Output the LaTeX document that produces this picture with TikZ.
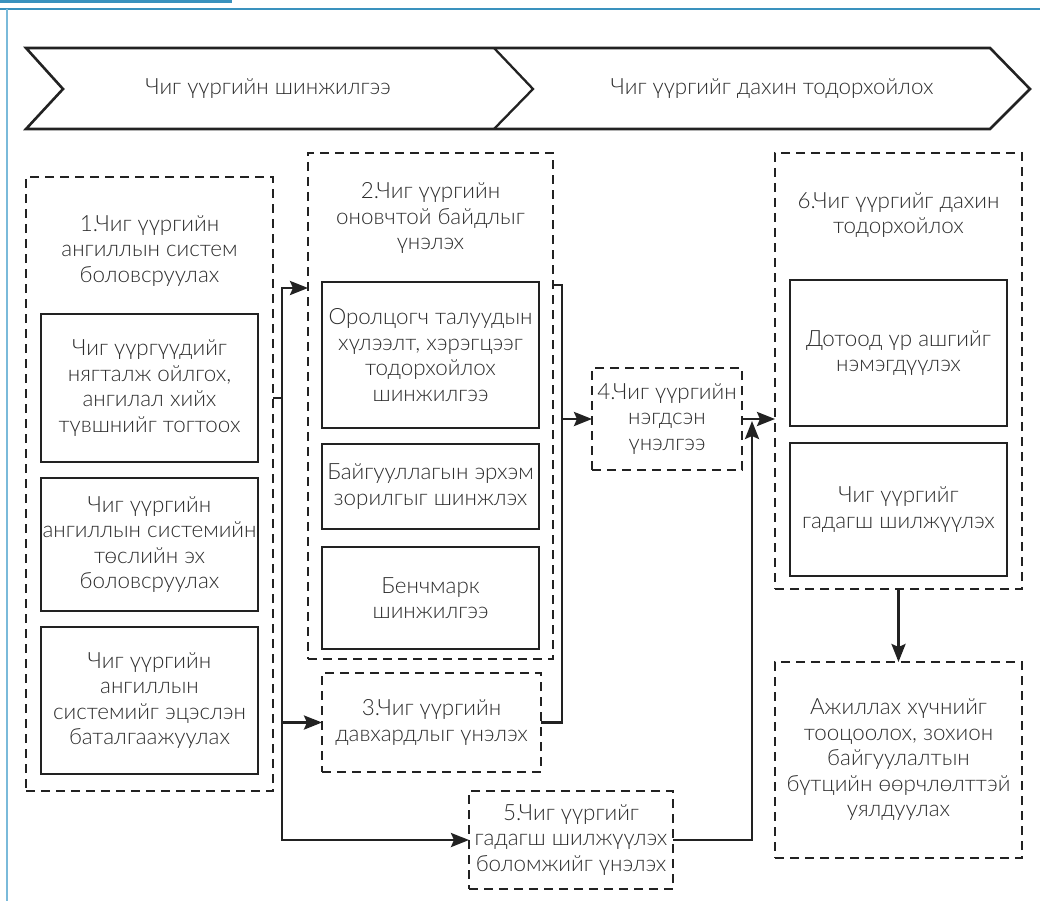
\documentclass[tikz,border=0pt]{standalone}
\usepackage{fontspec}
\IfFontExistsTF{Lato Light}{\setmainfont{Lato Light}}{\setmainfont{Lato}}
\usetikzlibrary{arrows.meta,calc}

\definecolor{tabblue}{RGB}{58,146,190}
\definecolor{edgeblue}{RGB}{122,186,218}
\definecolor{ink}{RGB}{34,34,34}
\definecolor{txtgray}{RGB}{45,45,45}

\tikzset{
  txt/.style={text=txtgray, font=\fontsize{22.4}{25.5}\selectfont, align=center, inner sep=0pt},
  groupbox/.style={draw=ink, line width=2.4pt, dash pattern=on 9pt off 6pt,
                   inner sep=0pt, outer sep=0pt, rectangle},
  stepbox/.style={draw=ink, line width=2.8pt, inner sep=0pt, outer sep=0pt,
                  rectangle, txt},
  conn/.style={draw=ink, line width=2.8pt},
  arrow/.style={conn, -{Stealth[length=18pt,width=14pt,inset=3pt]}},
}

\begin{document}
\begin{tikzpicture}[x=1pt,y=-1pt]
\useasboundingbox (0,0) rectangle (1040,901);

% page frame accents
\fill[tabblue] (0,0) rectangle (232,2.6);
\draw[tabblue, line width=1.8pt] (0,9) -- (1040,9);
\draw[edgeblue, line width=2pt] (7,9) -- (7,901);

% phase banner
\draw[ink, line width=2.6pt, line join=miter]
  (26,48) -- (990,48) -- (1030,89) -- (990,129) -- (26,129) -- (63,89) -- cycle;
\draw[ink, line width=2.3pt] (494,48) -- (533,89) -- (494,129);
\node[txt] (ph1) at (268,89) {Чиг үүргийн шинжилгээ};
\node[txt] (ph2) at (772,89) {Чиг үүргийг дахин тодорхойлох};

% group 1
\node[groupbox, minimum width=247pt, minimum height=614pt] (b1) at (149.5,484) {};
\node[txt] (t1) at (149.5,251) {1.Чиг үүргийн\\ангиллын систем\\боловсруулах};
\node[stepbox, minimum width=217pt, minimum height=148pt] (b1a) at (149.5,388)
  {Чиг үүргүүдийг\\нягталж ойлгох,\\ангилал хийх\\түвшнийг тогтоох};
\node[stepbox, minimum width=217pt, minimum height=133pt] (b1b) at (149.5,544.5)
  {Чиг үүргийн\\ангиллын системийн\\төслийн эх\\боловсруулах};
\node[stepbox, minimum width=217pt, minimum height=147pt] (b1c) at (149.5,700.5)
  {Чиг үүргийн\\ангиллын\\системийг эцэслэн\\баталгаажуулах};

% group 2
\node[groupbox, minimum width=245pt, minimum height=506pt] (b2) at (430.5,406) {};
\node[txt] (t2) at (430.5,218) {2.Чиг үүргийн\\оновчтой байдлыг\\үнэлэх};
\node[stepbox, minimum width=217pt, minimum height=146pt] (b2a) at (430.5,355)
  {Оролцогч талуудын\\хүлээлт, хэрэгцээг\\тодорхойлох\\шинжилгээ};
\node[stepbox, minimum width=217pt, minimum height=85pt] (b2b) at (430.5,486.5)
  {Байгууллагын эрхэм\\зорилгыг шинжлэх};
\node[stepbox, minimum width=217pt, minimum height=102pt] (b2c) at (430.5,598)
  {Бенчмарк\\шинжилгээ};

% groups 3, 4, 5
\node[groupbox, txt, minimum width=219pt, minimum height=99pt] (b3) at (431.5,722.5)
  {3.Чиг үүргийн\\давхардлыг үнэлэх};
\node[groupbox, txt, minimum width=150pt, minimum height=102pt] (b4) at (667,419)
  {4.Чиг үүргийн\\нэгдсэн\\үнэлгээ};
\node[groupbox, txt, minimum width=204pt, minimum height=98pt] (b5) at (571,840)
  {5.Чиг үүргийг\\гадагш шилжүүлэх\\боломжийг үнэлэх};

% group 6
\node[groupbox, minimum width=247pt, minimum height=436pt] (b6) at (898.5,371) {};
\node[txt] (t6) at (898.5,215) {6.Чиг үүргийг дахин\\тодорхойлох};
\node[stepbox, minimum width=217pt, minimum height=146pt] (b6a) at (898.5,353)
  {Дотоод үр ашгийг\\нэмэгдүүлэх};
\node[stepbox, minimum width=217pt, minimum height=133pt] (b6b) at (898.5,509.5)
  {Чиг үүргийг\\гадагш шилжүүлэх};

% follow-up
\node[groupbox, txt, minimum width=247pt, minimum height=196pt] (b7) at (898.5,760)
  {Ажиллах хүчнийг\\тооцоолох, зохион\\байгуулалтын\\бүтцийн өөрчлөлттэй\\уялдуулах};

% connectors: left bus
\coordinate (busL) at (282,398);
\draw[conn] (b1.east |- busL) -- (busL);
\draw[arrow] (busL) |- ($(b2.north west)+(0,135)$);
\draw[arrow] (busL) |- (b5.west);
\draw[arrow] (busL |- b3.west) -- (b3.west);

% connectors: middle bus
\coordinate (busR) at (562,419);
\draw[conn] ($(b2.north east)+(0,132)$) -| (busR);
\draw[conn] (b3.east) -| (busR);
\draw[arrow] (busR) -- (b4.west);

% connectors: right side
\coordinate (busS) at (752,421);
\draw[arrow] (b4.east) -- (b6.west |- b4.east);
\draw[arrow] (b5.east) -| (busS);
\draw[arrow] (b6.south) -- (b7.north);
\end{tikzpicture}
\end{document}
